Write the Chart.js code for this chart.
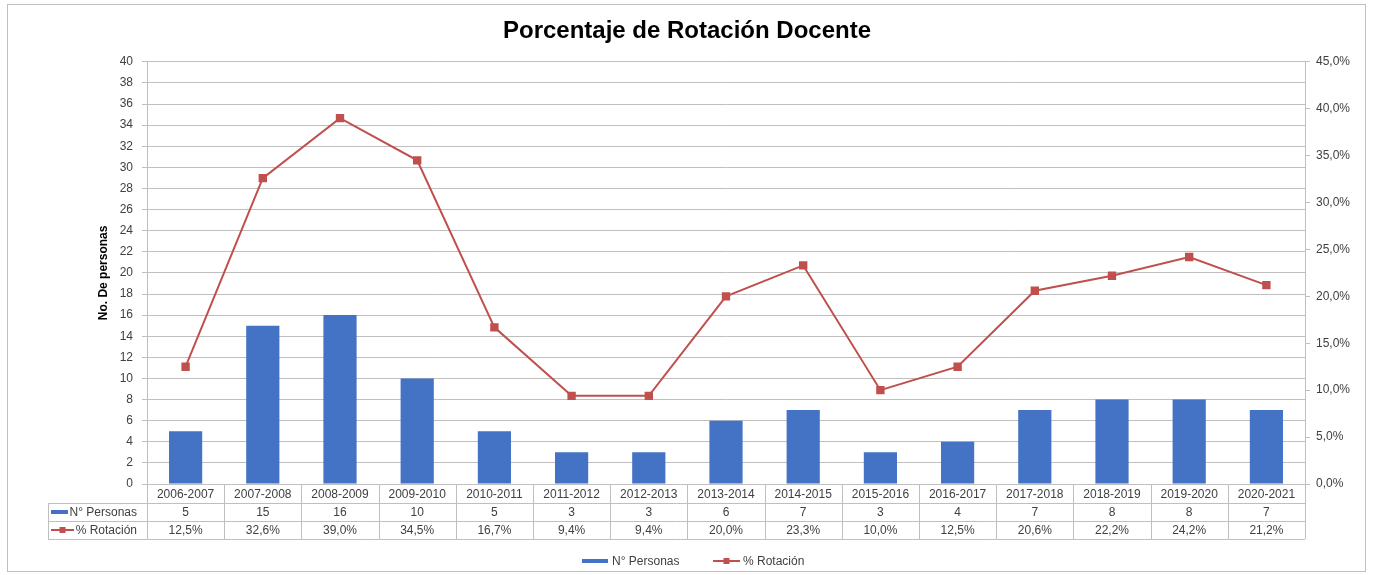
<!DOCTYPE html>
<html>
<head>
<meta charset="utf-8">
<script src="https://cdn.jsdelivr.net/npm/chart.js@4.4.0/dist/chart.umd.min.js"></script>
<style>
  html, body { margin: 0; padding: 0; background: #fff; }
  #wrap { position: relative; width: 1374px; height: 575px; }
  #frame { position: absolute; left: 7px; top: 4px; width: 1359px; height: 568px; border: 1px solid #bfbfbf; box-sizing: border-box; pointer-events: none; }
</style>
</head>
<body>
<div id="wrap">
  <canvas id="chart" width="1374" height="575"></canvas>
  <div id="frame"></div>
</div>
<script>
// data
const periodos = ['2006-2007', '2007-2008', '2008-2009', '2009-2010', '2010-2011', '2011-2012', '2012-2013',
  '2013-2014', '2014-2015', '2015-2016', '2016-2017', '2017-2018', '2018-2019', '2019-2020', '2020-2021'];
const personas = [5, 15, 16, 10, 5, 3, 3, 6, 7, 3, 4, 7, 8, 8, 7];
const rotacion = [12.5, 32.6, 39.0, 34.5, 16.7, 9.4, 9.4, 20.0, 23.3, 10.0, 12.5, 20.6, 22.2, 24.2, 21.2];

const AZUL = '#4472c4';
const ROJO = '#c0504d';
const TXT = '#404040';
const FONT = 'Arial, "Liberation Sans", sans-serif';

function fmtPct(v) {
    return v.toFixed(1).replace('.', ',') + '%';
}

// Data table + legend below the plot, like Excel's "data table with legend keys"
const dataTablePlugin = {
    id: 'dataTable',
    afterDraw(chart) {
        const ctx = chart.ctx;
        const x = chart.scales.x;
        const area = chart.chartArea;
        const n = periodos.length;
        const step = (area.right - area.left) / n;
        const top = Math.round(area.bottom);
        const rows = [top, top + 19, top + 37, top + 55];
        const keyLeft = 48;

        ctx.save();
        ctx.strokeStyle = '#bfbfbf';
        ctx.lineWidth = 1;
        ctx.beginPath();
        // horizontal rules
        ctx.moveTo(area.left, rows[0] + 0.5); ctx.lineTo(area.right, rows[0] + 0.5);
        for (let r = 1; r < rows.length; r++) {
            ctx.moveTo(keyLeft, rows[r] + 0.5); ctx.lineTo(area.right, rows[r] + 0.5);
        }
        // vertical rules
        ctx.moveTo(keyLeft + 0.5, rows[1]); ctx.lineTo(keyLeft + 0.5, rows[3]);
        for (let i = 0; i <= n; i++) {
            const px = Math.round(area.left + i * step) + 0.5;
            ctx.moveTo(px, rows[0]); ctx.lineTo(px, rows[3]);
        }
        ctx.stroke();

        ctx.font = '12px ' + FONT;
        ctx.fillStyle = TXT;
        ctx.textAlign = 'center';
        ctx.textBaseline = 'middle';
        for (let i = 0; i < n; i++) {
            const cx = x.getPixelForValue(i);
            ctx.fillText(periodos[i], cx, (rows[0] + rows[1]) / 2 + 1);
            ctx.fillText(String(personas[i]), cx, (rows[1] + rows[2]) / 2 + 1);
            ctx.fillText(fmtPct(rotacion[i]), cx, (rows[2] + rows[3]) / 2 + 1);
        }

        // row headers with legend keys
        const y1 = (rows[1] + rows[2]) / 2;
        const y2 = (rows[2] + rows[3]) / 2;
        ctx.textAlign = 'right';
        ctx.fillText('N° Personas', 137, y1 + 1);
        ctx.fillText('% Rotación', 137, y2 + 1);
        ctx.fillStyle = AZUL;
        ctx.fillRect(51, y1 - 2, 17, 4);
        drawLineKey(ctx, 51, 74, y2);

        // bottom legend
        const ly = 561;
        ctx.fillStyle = AZUL;
        ctx.fillRect(582, ly - 2, 26, 4);
        ctx.fillStyle = TXT;
        ctx.textAlign = 'left';
        ctx.fillText('N° Personas', 612, ly + 1);
        drawLineKey(ctx, 713, 740, ly);
        ctx.fillStyle = TXT;
        ctx.fillText('% Rotación', 743, ly + 1);
        ctx.restore();
    }
};

function drawLineKey(ctx, x0, x1, y) {
    ctx.save();
    ctx.strokeStyle = ROJO;
    ctx.lineWidth = 2;
    ctx.beginPath();
    ctx.moveTo(x0, y); ctx.lineTo(x1, y);
    ctx.stroke();
    ctx.fillStyle = ROJO;
    const mx = (x0 + x1) / 2;
    ctx.fillRect(mx - 3, y - 3, 6, 6);
    ctx.restore();
}

const ctx = document.getElementById('chart').getContext('2d');
new Chart(ctx, {
    data: {
        labels: periodos,
        datasets: [
            {
                type: 'line',
                label: '% Rotación',
                data: rotacion,
                yAxisID: 'y1',
                borderColor: ROJO,
                backgroundColor: ROJO,
                borderWidth: 2,
                pointStyle: 'rect',
                pointRadius: 4.5,
                pointHoverRadius: 4.5,
                tension: 0,
                order: 0
            },
            {
                type: 'bar',
                label: 'N° Personas',
                data: personas,
                yAxisID: 'y',
                backgroundColor: AZUL,
                borderWidth: 0,
                categoryPercentage: 1,
                barPercentage: 0.43,
                order: 1
            }
        ]
    },
    options: {
        responsive: false,
        animation: false,
        layout: { padding: { left: 0, right: 0, top: 0, bottom: 91 } },
        plugins: {
            legend: { display: false },
            tooltip: { enabled: false },
            title: {
                display: true,
                text: 'Porcentaje de Rotación Docente',
                color: '#000',
                font: { family: FONT, size: 24, weight: 'bold' },
                padding: { top: 17, bottom: 16 }
            }
        },
        scales: {
            x: {
                display: false,
                offset: true,
                grid: { display: false }
            },
            y: {
                position: 'left',
                min: 0,
                max: 40,
                afterFit(scale) { scale.width = 147; },
                ticks: { stepSize: 2, color: TXT, font: { family: FONT, size: 12 }, padding: 9 },
                grid: { color: '#bfbfbf', drawTicks: true, tickLength: 5, tickColor: '#bfbfbf' },
                border: { color: '#bfbfbf' },
                title: {
                    display: true,
                    text: 'No. De personas',
                    color: '#000',
                    font: { family: FONT, size: 12, weight: 'bold' },
                    padding: { top: 96, bottom: 0 }
                }
            },
            y1: {
                position: 'right',
                min: 0,
                max: 45,
                afterFit(scale) { scale.width = 69; },
                ticks: { stepSize: 5, color: TXT, font: { family: FONT, size: 12 }, padding: 6,
                    callback: v => fmtPct(v) },
                grid: { drawOnChartArea: false, tickLength: 5, color: '#bfbfbf' },
                border: { color: '#bfbfbf' }
            }
        }
    },
    plugins: [dataTablePlugin]
});
</script>
</body>
</html>
